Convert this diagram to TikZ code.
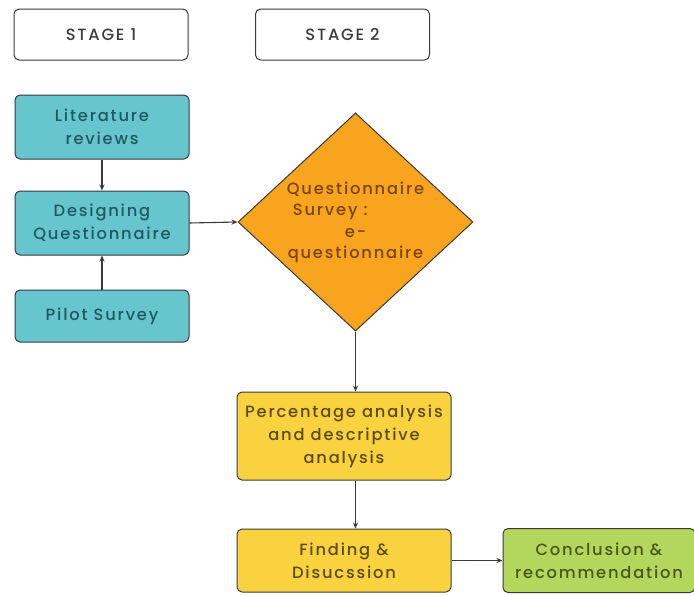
\documentclass[tikz,border=0pt]{standalone}
\usepackage{fontspec}
\setmainfont{Poppins Medium}[LetterSpace=11]
\usetikzlibrary{shapes,arrows,positioning,shapes.geometric,arrows.meta,calc}

\definecolor{stagegray}{HTML}{3C3C3C}
\definecolor{tealfill}{HTML}{66C5CD}
\definecolor{tealtext}{HTML}{1E5A60}
\definecolor{orangefill}{HTML}{F8A41E}
\definecolor{orangetext}{HTML}{7A4500}
\definecolor{yellowfill}{HTML}{F9D23F}
\definecolor{yellowtext}{HTML}{5E4A0C}
\definecolor{greenfill}{HTML}{B3D65C}
\definecolor{greentext}{HTML}{46581C}
\definecolor{edgegray}{HTML}{3A3A3A}

\begin{document}
\begin{tikzpicture}[
        x=1pt, y=-1pt,
        node distance=33pt,
        every node/.style={font=\fontsize{16.3}{23}\selectfont},
        stage/.style={rectangle, rounded corners=5pt, draw=edgegray, line width=1pt, fill=white, text=stagegray, align=center, minimum width=174pt, minimum height=51pt},
        tealbox/.style={rectangle, rounded corners=5pt, draw=edgegray, line width=1pt, fill=tealfill, text=tealtext, align=center, minimum width=174pt, minimum height=64pt},
        decision/.style={diamond, draw=edgegray, line width=1pt, fill=orangefill, text=orangetext, align=center, inner sep=0pt, minimum width=235pt, minimum height=215pt, font=\fontsize{16.3}{21}\selectfont},
        yellowbox/.style={rectangle, rounded corners=5pt, draw=edgegray, line width=1pt, fill=yellowfill, text=yellowtext, align=center, minimum width=214pt, minimum height=63pt},
        greenbox/.style={rectangle, rounded corners=5pt, draw=edgegray, line width=1pt, fill=greenfill, text=greentext, align=center, minimum width=192pt, minimum height=64pt},
        line/.style={-{Stealth[length=6pt,width=5pt]}, draw=edgegray, line width=1.1pt}
    ]
        \useasboundingbox (0,0) rectangle (694,595);
        % stage headers
        \node[stage] (stageone) at (101,34.5) {STAGE 1};
        \node[stage] (stagetwo) at (342.5,34.5) {STAGE 2};
        % stage 1
        \node[tealbox] (litrev) at (102,127) {Literature\\reviews};
        \node[tealbox, below=31pt of litrev] (design) {Designing\\Questionnaire};
        \node[tealbox, below=34pt of design, minimum height=52pt] (pilot) {Pilot Survey};
        % stage 2
        \node[decision] (survey) at (355.5,222) {Questionnaire\\Survey :\rule{3.1em}{0pt}\\[1pt]e-\\questionnaire};
        \node[yellowbox, minimum height=88pt] (analysis) at (344,436) {Percentage analysis\\and descriptive\\analysis};
        \node[yellowbox, below=48pt of analysis] (finding) {Finding \&\\Disucssion};
        \node[greenbox, right=51pt of finding] (conclusion) {Conclusion \&\\recommendation};
        \draw[line] (litrev) -- (design);
        \draw[line] (pilot) -- (design);
        \draw[line] (design.east) -- (survey.west);
        \draw[line] (survey.south) -- (survey.south |- analysis.north);
        \draw[line] (survey.south |- analysis.south) -- (survey.south |- finding.north);
        \draw[line] (finding) -- (conclusion);
    \end{tikzpicture}
\end{document}
